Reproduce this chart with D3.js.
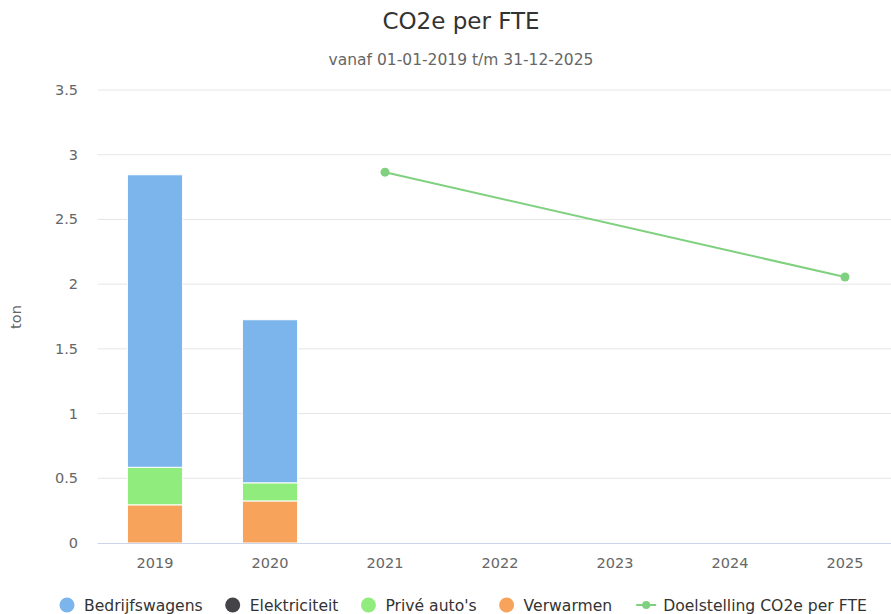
<!DOCTYPE html>
<html><head><meta charset="utf-8">
<script src="https://cdn.jsdelivr.net/npm/d3@7"></script>
<style>body{margin:0;background:#fff}svg{display:block;font-family:"DejaVu Sans",sans-serif}</style>
</head><body>
<svg id="c" width="891" height="614"></svg>
<script>
const categories = ["2019","2020","2021","2022","2023","2024","2025"];
const bedrijfswagens = [2.26, 1.26, null, null, null, null, null];
const elektriciteit = [0, 0, null, null, null, null, null];
const priveAutos = [0.29, 0.14, null, null, null, null, null];
const verwarmen = [0.295, 0.325, null, null, null, null, null];
const doelstelling = [null, null, 2.865, null, null, null, 2.055];
const yTicks = [0, 0.5, 1, 1.5, 2, 2.5, 3, 3.5];

const seriesNames = ["Bedrijfswagens","Elektriciteit","Privé auto's","Verwarmen","Doelstelling CO2e per FTE"];
const colors = ["#7cb5ec","#434348","#90ed7d","#f7a35c","#7fd07f"];

const svg = d3.select("#c");
const plotLeft = 97.5, plotTop = 90, plotBottom = 543, bandW = 115;
const x = d3.scaleBand().domain(categories).range([plotLeft, plotLeft + bandW*categories.length]).paddingInner(0.52).paddingOuter(0.26);
const xc = d3.scaleBand().domain(categories).range([plotLeft, plotLeft + bandW*categories.length]);
const y = d3.scaleLinear().domain([0, 3.5]).range([plotBottom, plotTop]);

// title
svg.append("text").attr("x", 461).attr("y", 29).attr("text-anchor","middle").attr("font-size", 23).attr("fill","#333").text("CO2e per FTE");
svg.append("text").attr("x", 461).attr("y", 65).attr("text-anchor","middle").attr("font-size", 15.5).attr("fill","#666").text("vanaf 01-01-2019 t/m 31-12-2025");

// grid
svg.append("g").selectAll("line").data(yTicks.filter(d=>d>0)).join("line")
  .attr("x1", plotLeft).attr("x2", 891).attr("y1", d=>y(d)).attr("y2", d=>y(d))
  .attr("stroke","#e6e6e6").attr("stroke-width",1);

// y labels
svg.append("g").selectAll("text").data(yTicks).join("text")
  .attr("x", 78).attr("y", d=>y(d)+5).attr("text-anchor","end").attr("font-size",14.5).attr("fill","#666").text(d=>d);
svg.append("text").attr("transform","translate(21,317) rotate(-90)").attr("text-anchor","middle").attr("font-size",14.5).attr("fill","#666").text("ton");

// stacked bars
const rows = categories.map((c,i)=>({cat:c, verwarmen: verwarmen[i]||0, prive: priveAutos[i]||0, elek: elektriciteit[i]||0, bedrijf: bedrijfswagens[i]||0}));
const stack = d3.stack().keys(["verwarmen","prive","elek","bedrijf"])(rows);
const keyColor = {verwarmen: colors[3], prive: colors[2], elek: colors[1], bedrijf: colors[0]};
stack.forEach(s=>{
  svg.append("g").selectAll("rect").data(s.filter(d=>d[1]-d[0]>0)).join("rect")
    .attr("x", d=>x(d.data.cat)).attr("width", x.bandwidth())
    .attr("y", d=>y(d[1])).attr("height", d=>y(d[0])-y(d[1]))
    .attr("fill", keyColor[s.key]).attr("stroke","#fff").attr("stroke-width",1);
});

// x axis
svg.append("line").attr("x1", plotLeft).attr("x2", 891).attr("y1", plotBottom+0.5).attr("y2", plotBottom+0.5).attr("stroke","#ccd6eb");
svg.append("g").selectAll("text").data(categories).join("text")
  .attr("x", d=>xc(d)+xc.bandwidth()/2).attr("y", 568).attr("text-anchor","middle").attr("font-size",14.5).attr("fill","#666").text(d=>d);

// line
const pts = categories.map((c,i)=>({c, v: doelstelling[i]})).filter(d=>d.v!=null);
svg.append("path").datum(pts).attr("fill","none").attr("stroke",colors[4]).attr("stroke-width",2)
  .attr("d", d3.line().x(d=>xc(d.c)+xc.bandwidth()/2).y(d=>y(d.v)));
svg.append("g").selectAll("circle").data(pts).join("circle")
  .attr("cx", d=>xc(d.c)+xc.bandwidth()/2).attr("cy", d=>y(d.v)).attr("r",4.5).attr("fill",colors[4]);

// legend
const lg = svg.append("g");
const items = [];
seriesNames.forEach((n,i)=>{
  const g = lg.append("g");
  const isLine = i===4;
  if(isLine){
    g.append("line").attr("x1",-10).attr("x2",10).attr("y1",0).attr("y2",0).attr("stroke",colors[i]).attr("stroke-width",2);
    g.append("circle").attr("cx",0).attr("cy",0).attr("r",4).attr("fill",colors[i]);
  } else {
    g.append("circle").attr("cx",0).attr("cy",0).attr("r",7.5).attr("fill",colors[i]);
  }
  const t = g.append("text").attr("x", 17).attr("y",5.5).attr("font-size",15.6).attr("fill","#333").text(n);
  items.push({g, w: 17 + t.node().getComputedTextLength(), isLine});
});
const gap = 30;
let pos = 67;
items.forEach((it)=>{
  const px = it.isLine ? pos + 4 : pos;
  it.g.attr("transform", `translate(${px},605)`);
  pos += it.w + gap;
});
</script>
</body></html>
